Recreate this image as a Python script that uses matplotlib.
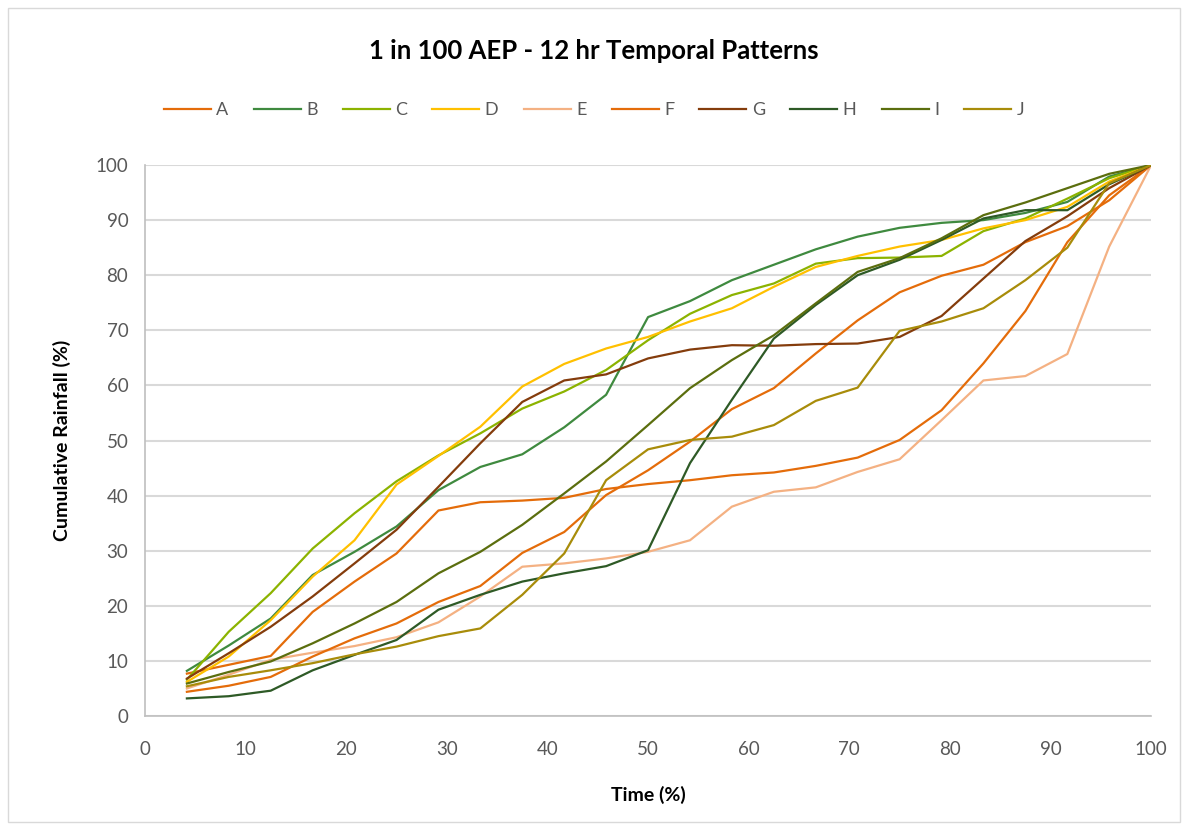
import matplotlib.pyplot as plt
from matplotlib.patches import Rectangle

# time steps for the 12 hr storm, 24 increments
time_pct = [4.17, 8.33, 12.5, 16.67, 20.83, 25, 29.17, 33.33, 37.5, 41.67, 45.83, 50,
            54.17, 58.33, 62.5, 66.67, 70.83, 75, 79.17, 83.33, 87.5, 91.67, 95.83, 100]

pattern_names = ["A", "B", "C", "D", "E", "F", "G", "H", "I", "J"]

pat_a = [7.7, 9.3, 10.9, 18.9, 24.4, 29.5, 37.3, 38.8, 39.1, 39.6, 41.2, 42.1,
         42.8, 43.7, 44.2, 45.4, 46.9, 50.1, 55.5, 64.0, 73.5, 86.0, 94.5, 100]
pat_b = [8.2, 12.8, 17.7, 25.6, 29.8, 34.4, 41.0, 45.2, 47.5, 52.4, 58.3, 72.4,
         75.3, 79.1, 81.9, 84.7, 87.0, 88.6, 89.5, 90.0, 91.3, 93.3, 97.9, 100]
pat_c = [6.6, 15.3, 22.3, 30.4, 36.8, 42.6, 47.3, 51.3, 55.8, 58.9, 62.8, 68.2,
         73.0, 76.4, 78.5, 82.1, 83.1, 83.2, 83.5, 88.0, 90.3, 93.9, 97.6, 100]
pat_d = [6.2, 10.8, 17.4, 25.3, 31.9, 42.0, 47.2, 52.5, 59.8, 63.9, 66.7, 68.8,
         71.6, 74.0, 77.9, 81.5, 83.5, 85.2, 86.4, 88.5, 90.0, 92.4, 97.0, 100]
pat_e = [5.0, 7.5, 10.2, 11.5, 12.7, 14.3, 17.0, 21.7, 27.1, 27.7, 28.6, 29.8,
         31.9, 38.0, 40.7, 41.5, 44.3, 46.6, 53.7, 60.9, 61.7, 65.7, 85.2, 100]
pat_f = [4.4, 5.5, 7.1, 10.8, 14.1, 16.8, 20.7, 23.6, 29.6, 33.4, 40.1, 44.6,
         49.8, 55.7, 59.5, 65.8, 71.8, 76.9, 79.9, 81.9, 86.0, 88.9, 93.6, 100]
pat_g = [6.8, 11.4, 16.2, 21.7, 27.7, 33.8, 41.6, 49.5, 57.0, 60.9, 62.0, 64.9,
         66.5, 67.3, 67.2, 67.5, 67.6, 68.8, 72.6, 79.4, 86.2, 90.7, 95.8, 100]
pat_h = [3.2, 3.6, 4.6, 8.3, 11.1, 13.8, 19.3, 22.0, 24.4, 25.9, 27.2, 30.1,
         45.9, 57.4, 68.5, 74.6, 80.0, 82.8, 86.4, 90.3, 91.8, 91.8, 96.5, 100]
pat_i = [5.9, 8.0, 9.9, 13.2, 16.8, 20.7, 25.9, 29.8, 34.7, 40.4, 46.2, 52.8,
         59.5, 64.6, 69.1, 74.9, 80.6, 83.1, 86.7, 90.9, 93.2, 95.8, 98.4, 100]
pat_j = [5.4, 7.1, 8.3, 9.6, 11.2, 12.6, 14.5, 15.9, 22.0, 29.5, 42.8, 48.4,
         50.1, 50.7, 52.8, 57.2, 59.6, 69.9, 71.6, 74.0, 79.1, 85.0, 96.7, 100]

patterns = [pat_a, pat_b, pat_c, pat_d, pat_e, pat_f, pat_g, pat_h, pat_i, pat_j]
colours = ["#E46C0A", "#3F8A3F", "#8CB300", "#FFC000", "#F4B183",
           "#E46C0A", "#843C0C", "#2E5A26", "#5B6E0E", "#A88C0A"]

GREY = "#595959"


def main():
    plt.rcParams["font.family"] = ["Lato", "DejaVu Sans"]
    fig = plt.figure(figsize=(11.88, 8.3), dpi=100)
    ax = fig.add_axes([0.122, 0.1373, 0.847, 0.6639])

    for name, vals, col in zip(pattern_names, patterns, colours):
        ax.plot(time_pct, vals, color=col, lw=1.6, label=name, solid_joinstyle="round")

    ax.set_xlim(0, 100)
    ax.set_ylim(0, 100)
    ax.set_xticks(range(0, 101, 10))
    ax.set_yticks(range(0, 101, 10))
    ax.tick_params(axis="both", length=0, labelsize=13.5, colors=GREY)
    ax.tick_params(axis="x", pad=18)
    ax.tick_params(axis="y", pad=12)
    ax.grid(axis="y", color="#D9D9D9", lw=1.5)
    ax.set_axisbelow(True)
    for side in ["top", "right"]:
        ax.spines[side].set_visible(False)
    for side in ["left", "bottom"]:
        ax.spines[side].set_color("#BFBFBF")
        ax.spines[side].set_linewidth(1.2)

    ax.set_xlabel("Time (%)", fontsize=14, fontweight="bold", color="black", labelpad=20)
    ax.set_ylabel("Cumulative Rainfall (%)", fontsize=14, fontweight="bold", color="black", labelpad=18)

    fig.text(0.5, 0.938, "1 in 100 AEP - 12 hr Temporal Patterns", ha="center", va="center",
             fontsize=18.5, fontweight="bold")
    leg = fig.legend(loc="center", bbox_to_anchor=(0.5, 0.867), ncol=10, frameon=False,
                     fontsize=13, handlelength=2.6, handletextpad=0.3, columnspacing=1.4)
    for t in leg.get_texts():
        t.set_color(GREY)

    # thin frame around the whole chart
    fig.patches.append(Rectangle((0.007, 0.01), 0.986, 0.98, transform=fig.transFigure,
                                 fill=False, edgecolor="#D9D9D9", lw=1))

    fig.savefig("out.png", dpi=100)


main()
